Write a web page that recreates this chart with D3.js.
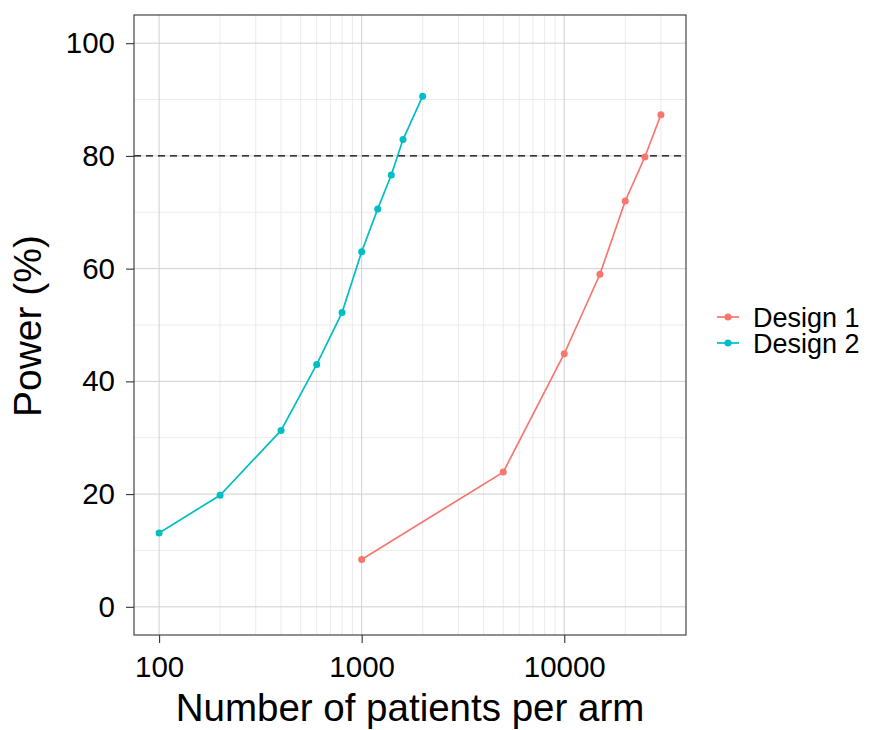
<!DOCTYPE html>
<html>
<head>
<meta charset="utf-8">
<script src="https://cdn.jsdelivr.net/npm/d3@7"></script>
<style>
  body { margin: 0; background: #fff; }
  text { font-family: "Liberation Sans", Arial, Helvetica, sans-serif; fill: #000; }
</style>
</head>
<body>
<div id="chart"></div>
<script>
const WIDTH = 871;
const HEIGHT = 730;
const PANEL = {x: 134, y: 15, w: 552, h: 620};

// data
const design1N = [1000, 5000, 10000, 15000, 20000, 25000, 30000];
const design1Power = [8.4, 23.9, 44.9, 59.0, 72.0, 79.8, 87.3];
const design2N = [100, 200, 400, 600, 800, 1000, 1200, 1400, 1600, 2000];
const design2Power = [13.1, 19.8, 31.3, 43.0, 52.2, 63.0, 70.6, 76.6, 82.9, 90.6];
const seriesNames = ['Design 1', 'Design 2'];
const seriesColors = ['#F8766D', '#00BFC4'];
const xMajor = [100, 1000, 10000];
const xMinor = [200, 300, 400, 500, 600, 700, 800, 900,
                2000, 3000, 4000, 5000, 6000, 7000, 8000, 9000, 20000, 30000];
const yMajor = [0, 20, 40, 60, 80, 100];
const yMinor = [10, 30, 50, 70, 90];
const targetPower = 80;

const series = [
    {name: seriesNames[0], color: seriesColors[0], pts: design1N.map((n, i) => ({n, p: design1Power[i]}))},
    {name: seriesNames[1], color: seriesColors[1], pts: design2N.map((n, i) => ({n, p: design2Power[i]}))}
];

let svg = d3.select('#chart').append('svg')
    .attr('width', WIDTH)
    .attr('height', HEIGHT);

// ggplot style 5% expansion on log10 x and on the 0-100 y limits
let lx0 = Math.log10(100), lx1 = Math.log10(30000);
let ex = (lx1 - lx0) * 0.05;
let x = d3.scaleLog()
    .domain([Math.pow(10, lx0 - ex), Math.pow(10, lx1 + ex)])
    .range([PANEL.x, PANEL.x + PANEL.w]);
let y = d3.scaleLinear()
    .domain([-5, 105])
    .range([PANEL.y + PANEL.h, PANEL.y]);

let grid = svg.append('g');
yMinor.forEach(v => grid.append('line')
    .attr('x1', PANEL.x).attr('x2', PANEL.x + PANEL.w)
    .attr('y1', y(v)).attr('y2', y(v))
    .attr('stroke', '#ebebeb').attr('stroke-width', 1));
xMinor.forEach(v => grid.append('line')
    .attr('x1', x(v)).attr('x2', x(v))
    .attr('y1', PANEL.y).attr('y2', PANEL.y + PANEL.h)
    .attr('stroke', '#ebebeb').attr('stroke-width', 1));
yMajor.forEach(v => grid.append('line')
    .attr('x1', PANEL.x).attr('x2', PANEL.x + PANEL.w)
    .attr('y1', y(v)).attr('y2', y(v))
    .attr('stroke', '#cfcfcf').attr('stroke-width', 1));
xMajor.forEach(v => grid.append('line')
    .attr('x1', x(v)).attr('x2', x(v))
    .attr('y1', PANEL.y).attr('y2', PANEL.y + PANEL.h)
    .attr('stroke', '#cfcfcf').attr('stroke-width', 1));

// 80% reference line
svg.append('line')
    .attr('x1', PANEL.x).attr('x2', PANEL.x + PANEL.w)
    .attr('y1', y(targetPower)).attr('y2', y(targetPower))
    .attr('stroke', '#000')
    .attr('stroke-width', 1.4)
    .attr('stroke-dasharray', '7,5');

let line = d3.line()
    .x(d => x(d.n))
    .y(d => y(d.p));

series.forEach(s => {
    svg.append('path')
        .attr('d', line(s.pts))
        .attr('fill', 'none')
        .attr('stroke', s.color)
        .attr('stroke-width', 1.7);
    svg.selectAll(null)
        .data(s.pts)
        .enter().append('circle')
        .attr('cx', d => x(d.n))
        .attr('cy', d => y(d.p))
        .attr('r', 3.5)
        .attr('fill', s.color);
});

// panel border
svg.append('rect')
    .attr('x', PANEL.x).attr('y', PANEL.y)
    .attr('width', PANEL.w).attr('height', PANEL.h)
    .attr('fill', 'none')
    .attr('stroke', '#333')
    .attr('stroke-width', 1.1);

// axes
let xAxis = svg.append('g')
    .attr('transform', 'translate(0,' + (PANEL.y + PANEL.h) + ')')
    .call(d3.axisBottom(x).tickValues(xMajor).tickFormat(d3.format('d')).tickSize(8).tickPadding(13));
let yAxis = svg.append('g')
    .attr('transform', 'translate(' + PANEL.x + ',0)')
    .call(d3.axisLeft(y).tickValues(yMajor).tickSize(8).tickPadding(11));
[xAxis, yAxis].forEach(a => {
    a.select('.domain').remove();
    a.selectAll('.tick line').attr('stroke', '#333').attr('stroke-width', 1.1);
    a.selectAll('.tick text')
        .style('font-family', '"Liberation Sans", Arial, sans-serif')
        .style('font-size', '29.5px')
        .attr('fill', '#000');
});

svg.append('text')
    .attr('x', PANEL.x + PANEL.w / 2)
    .attr('y', 721)
    .attr('text-anchor', 'middle')
    .style('font-size', '38.5px')
    .text('Number of patients per arm');

svg.append('text')
    .attr('transform', 'translate(41,' + 326 + ') rotate(-90)')
    .attr('text-anchor', 'middle')
    .style('font-size', '39px')
    .text('Power (%)');

// legend
let legend = svg.append('g').attr('transform', 'translate(717,317)');
series.forEach((s, i) => {
    let g = legend.append('g').attr('transform', 'translate(0,' + (i * 26) + ')');
    g.append('line')
        .attr('x1', 0).attr('x2', 22)
        .attr('stroke', s.color).attr('stroke-width', 1.7);
    g.append('circle')
        .attr('cx', 11).attr('r', 3.5)
        .attr('fill', s.color);
    g.append('text')
        .attr('x', 36)
        .attr('dy', '0.36em')
        .style('font-size', '27px')
        .text(s.name);
});
</script>
</body>
</html>
